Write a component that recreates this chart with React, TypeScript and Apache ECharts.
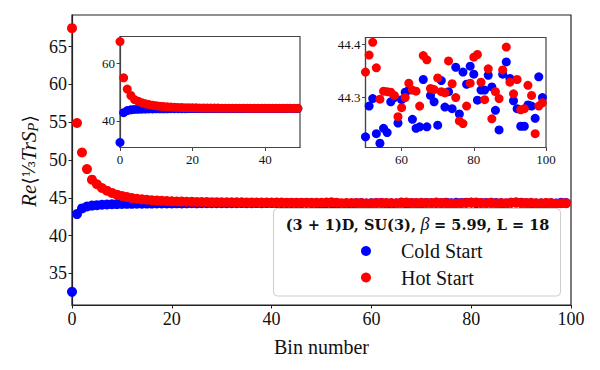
import React, { useEffect, useRef } from "react";
import * as echarts from "echarts";

// Bins 0..49
const coldEarly = [32.56, 42.85, 43.6, 43.85, 43.97, 44.03, 44.08, 44.12, 44.15, 44.17, 44.19, 44.2, 44.21, 44.22, 44.23, 44.24, 44.24, 44.25, 44.25, 44.26, 44.26, 44.27, 44.26, 44.27, 44.28, 44.27, 44.28, 44.28, 44.29, 44.28, 44.29, 44.28, 44.29, 44.29, 44.3, 44.29, 44.29, 44.3, 44.29, 44.3, 44.3, 44.29, 44.3, 44.3, 44.29, 44.3, 44.3, 44.31, 44.3, 44.29];
const hotEarly = [67.45, 54.9, 51.0, 48.8, 47.4, 46.8, 46.3, 45.95, 45.65, 45.42, 45.25, 45.1, 44.98, 44.88, 44.8, 44.74, 44.68, 44.63, 44.6, 44.57, 44.54, 44.52, 44.5, 44.48, 44.47, 44.46, 44.45, 44.44, 44.43, 44.43, 44.42, 44.41, 44.41, 44.4, 44.4, 44.39, 44.39, 44.38, 44.38, 44.38, 44.37, 44.37, 44.37, 44.36, 44.36, 44.36, 44.35, 44.36, 44.35, 44.35];
// Bins 50..99
const coldLate = [44.226, 44.284, 44.298, 44.232, 44.214, 44.242, 44.234, 44.292, 44.3, 44.252, 44.296, 44.31, 44.314, 44.259, 44.242, 44.245, 44.334, 44.245, 44.304, 44.292, 44.248, 44.332, 44.282, 44.311, 44.279, 44.357, 44.269, 44.348, 44.325, 44.359, 44.344, 44.295, 44.314, 44.314, 44.342, 44.32, 44.276, 44.239, 44.344, 44.367, 44.336, 44.294, 44.279, 44.246, 44.246, 44.286, 44.284, 44.261, 44.339, 44.3];
const hotLate = [44.348, 44.38, 44.404, 44.356, 44.297, 44.312, 44.311, 44.31, 44.304, 44.264, 44.281, 44.3, 44.327, 44.314, 44.312, 44.284, 44.379, 44.371, 44.317, 44.315, 44.337, 44.311, 44.309, 44.369, 44.326, 44.3, 44.256, 44.251, 44.284, 44.327, 44.376, 44.381, 44.329, 44.296, 44.354, 44.26, 44.311, 44.298, 44.352, 44.395, 44.329, 44.307, 44.334, 44.277, 44.279, 44.323, 44.304, 44.232, 44.284, 44.29];

const mainXTicks = [0, 20, 40, 60, 80, 100];
const mainYTicks = [35, 40, 45, 50, 55, 60, 65];
const inset1XTicks = [0, 20, 40];
const inset1YTicks = [40, 60];
const inset2XTicks = [60, 80, 100];
const inset2YTicks = [44.3, 44.4];

const coldName = "Cold Start";
const hotName = "Hot Start";

const FONT = "Liberation Serif";
const BOLDFONT = "DejaVu Serif";

export default function App() {
  const ref = useRef<HTMLDivElement>(null);
  useEffect(() => {
    if (!ref.current) return;
    const chart = echarts.init(ref.current, undefined, { renderer: "svg" });
    const cold = [...coldEarly, ...coldLate].map((v, i) => [i, v]);
    const hot = [...hotEarly, ...hotLate].map((v, i) => [i, v]);
    const coldE = coldEarly.map((v, i) => [i, v]);
    const hotE = hotEarly.map((v, i) => [i, v]);
    const coldL = coldLate.map((v, i) => [i + 50, v]);
    const hotL = hotLate.map((v, i) => [i + 50, v]);

    const axisCommon = (color: string, size: number, ticks: number[], fmt?: (v: number) => string) => ({
      axisLine: { show: true, onZero: false, lineStyle: { color, width: 1.2 } },
      axisTick: { show: true, length: 3.5, customValues: ticks, lineStyle: { color, width: 1 } },
      axisLabel: {
        customValues: ticks,
        color: "#111",
        fontFamily: FONT,
        fontSize: size,
        margin: 5,
        formatter: fmt ? (v: number) => fmt(v) : undefined,
      },
      splitLine: { show: false },
    });

    chart.setOption({
      animation: false,
      backgroundColor: "#fff",
      grid: [
        { left: 72, top: 15, width: 499, height: 290, show: true, borderColor: "#222", borderWidth: 1.2, backgroundColor: "transparent" },
        { left: 120, top: 36.5, width: 180, height: 111, show: true, borderColor: "#444", borderWidth: 1.2, backgroundColor: "#fff" },
        { left: 365.5, top: 37.5, width: 180.5, height: 110, show: true, borderColor: "#444", borderWidth: 1.2, backgroundColor: "#fff" },
      ],
      xAxis: [
        { type: "value", gridIndex: 0, min: 0, max: 100, ...axisCommon("#222", 18, mainXTicks), name: "Bin number", nameLocation: "middle", nameGap: 32, nameTextStyle: { fontFamily: FONT, fontSize: 20, color: "#111" } },
        { type: "value", gridIndex: 1, min: 0, max: 49.6, ...axisCommon("#444", 13, inset1XTicks) },
        { type: "value", gridIndex: 2, min: 50, max: 100, ...axisCommon("#444", 13, inset2XTicks) },
      ],
      yAxis: [
        { type: "value", gridIndex: 0, min: 30.82, max: 69.19, ...axisCommon("#222", 18, mainYTicks) },
        { type: "value", gridIndex: 1, min: 30.82, max: 69.19, ...axisCommon("#444", 13, inset1YTicks) },
        { type: "value", gridIndex: 2, min: 44.206, max: 44.413, ...axisCommon("#444", 13, inset2YTicks, (v) => v.toFixed(1)) },
      ],
      series: [
        { type: "scatter", name: coldName, xAxisIndex: 0, yAxisIndex: 0, data: cold, symbolSize: 10, itemStyle: { color: "#0000ff", opacity: 1 } },
        { type: "scatter", name: hotName, xAxisIndex: 0, yAxisIndex: 0, data: hot, symbolSize: 10, itemStyle: { color: "#ff0000", opacity: 1 } },
        { type: "scatter", xAxisIndex: 1, yAxisIndex: 1, data: coldE, symbolSize: 9, itemStyle: { color: "#0000ff", opacity: 1 } },
        { type: "scatter", xAxisIndex: 1, yAxisIndex: 1, data: hotE, symbolSize: 9, itemStyle: { color: "#ff0000", opacity: 1 } },
        { type: "scatter", xAxisIndex: 2, yAxisIndex: 2, data: coldL, symbolSize: 9, itemStyle: { color: "#0000ff", opacity: 1 } },
        { type: "scatter", xAxisIndex: 2, yAxisIndex: 2, data: hotL, symbolSize: 9, itemStyle: { color: "#ff0000", opacity: 1 } },
      ],
      graphic: [
        {
          type: "text",
          x: 29,
          y: 161,
          rotation: Math.PI / 2,
          z: 100,
          style: {
            text: "{i|Re}{n|⟨}{f|⅓}{i|TrS}{s|P}{n|⟩}",
            align: "center",
            verticalAlign: "middle",
            fill: "#111",
            fontFamily: FONT,
            fontSize: 21,
            rich: {
              i: { fontFamily: FONT, fontStyle: "italic", fontSize: 21, fill: "#111" },
              n: { fontFamily: "DejaVu Serif", fontSize: 19, fill: "#111" },
              f: { fontFamily: "DejaVu Serif", fontSize: 17, fill: "#111" },
              s: { fontFamily: FONT, fontStyle: "italic", fontSize: 15, fill: "#111", verticalAlign: "bottom", padding: [7, 0, 0, 0] },
            },
          },
        },
        {
          type: "rect",
          z: 100,
          shape: { x: 273.5, y: 208.5, width: 287, height: 87.5, r: 4 },
          style: { fill: "rgba(255,255,255,0.8)", stroke: "#cccccc", lineWidth: 1 },
        },
        {
          type: "text",
          z: 101,
          x: 417.5,
          y: 224,
          style: {
            text: "{b|(3 + 1)D, SU(3),} {g|β} {b|= 5.99, L = 18}",
            align: "center",
            verticalAlign: "middle",
            fill: "#111",
            fontFamily: BOLDFONT,
            fontSize: 14.5,
            rich: {
              b: { fontFamily: BOLDFONT, fontWeight: "bold", fontSize: 14.5, fill: "#111" },
              g: { fontFamily: FONT, fontStyle: "italic", fontSize: 18, fill: "#111" },
            },
          },
        },
        { type: "circle", z: 101, shape: { cx: 366, cy: 251, r: 5 }, style: { fill: "#0000ff" } },
        { type: "circle", z: 101, shape: { cx: 366, cy: 277.5, r: 5 }, style: { fill: "#ff0000" } },
        { type: "text", z: 101, x: 401, y: 251, style: { text: coldName, verticalAlign: "middle", fill: "#111", fontFamily: FONT, fontSize: 20 } },
        { type: "text", z: 101, x: 401, y: 277.5, style: { text: hotName, verticalAlign: "middle", fill: "#111", fontFamily: FONT, fontSize: 20 } },
      ],
    });
    return () => chart.dispose();
  }, []);
  return <div ref={ref} style={{ position: "absolute", left: 0, top: 0, width: 600, height: 370 }} />;
}
